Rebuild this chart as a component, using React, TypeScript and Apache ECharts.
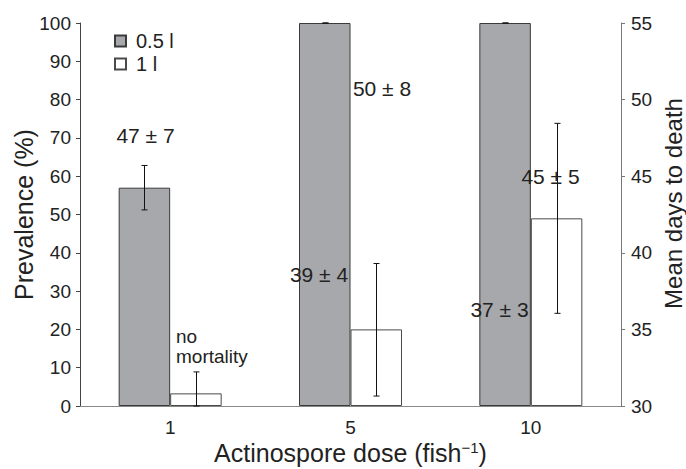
import React, { useEffect, useRef } from "react";
import * as echarts from "echarts";

const categories = ["1", "5", "10"];
const seriesNames = ["0.5 l", "1 l"];
const prevalenceHalfL = [57, 100, 100];
const prevalenceOneL = [3.3, 20, 49];
// [categoryIndex, low, high]
const errorHalfL = [
  [0, 51.2, 62.8],
  [1, 100, 100],
  [2, 100, 100],
];
const errorOneL = [
  [0, 0, 8.9],
  [1, 2.6, 37.2],
  [2, 24.2, 73.8],
];
const leftTicks = { min: 0, max: 100, interval: 10 };
const rightTicks = { min: 30, max: 55, interval: 5 };
const daysLabels = ["47 ± 7", "50 ± 8", "39 ± 4", "37 ± 3", "45 ± 5"];

const FONT = "'Liberation Sans', Arial, Helvetica, sans-serif";
const TEXT = "#222";
const BAR_W = 51.5;

function errorRender(offset: number) {
  return (params: any, api: any) => {
    const idx = api.value(0);
    const lo = api.value(1);
    const hi = api.value(2);
    const top = api.coord([idx, hi]);
    const bot = api.coord([idx, lo]);
    const x = Math.round(top[0] + offset) + 0.5;
    const style = { stroke: "#111", lineWidth: 1 };
    return {
      type: "group",
      children: [
        { type: "line", shape: { x1: x, y1: top[1], x2: x, y2: bot[1] }, style },
        { type: "line", shape: { x1: x - 3, y1: top[1], x2: x + 3, y2: top[1] }, style },
        { type: "line", shape: { x1: x - 3, y1: bot[1], x2: x + 3, y2: bot[1] }, style },
      ],
    };
  };
}

export default function App() {
  const ref = useRef<HTMLDivElement>(null);
  useEffect(() => {
    if (!ref.current) return;
    const chart = echarts.init(ref.current, null, { renderer: "svg" });
    const annStyle = { fontSize: 21, fill: TEXT, fontFamily: FONT, align: "center", verticalAlign: "middle" };
    const noteStyle = { fontSize: 19, lineHeight: 19, fill: TEXT, fontFamily: FONT, align: "left", verticalAlign: "middle" };
    chart.setOption({
      animation: false,
      backgroundColor: "#fff",
      textStyle: { fontFamily: FONT },
      grid: { left: 80, right: 65, top: 23, bottom: 63, outerBoundsMode: "none", containLabel: false },
      legend: {
        data: seriesNames,
        orient: "vertical",
        left: 109,
        top: 26,
        itemWidth: 11,
        itemHeight: 11,
        itemGap: 3,
        icon: "rect",
        textStyle: { fontSize: 20, color: TEXT, fontFamily: FONT, lineHeight: 20, padding: [0, 0, 0, 5] },
      },
      xAxis: {
        type: "category",
        data: categories,
        axisTick: { show: false },
        axisLine: { lineStyle: { color: "#888", width: 1 } },
        axisLabel: { fontSize: 19, color: TEXT, margin: 12, fontFamily: FONT },
        name: "Actinospore dose (fish{sup|−1})",
        nameLocation: "middle",
        nameGap: 34,
        nameMoveOverlap: false,
        nameTextStyle: {
          fontSize: 25,
          color: TEXT,
          fontFamily: FONT,
          rich: { sup: { fontSize: 15, verticalAlign: "top", color: TEXT, fontFamily: FONT } },
        },
      },
      yAxis: [
        {
          type: "value",
          min: leftTicks.min,
          max: leftTicks.max,
          interval: leftTicks.interval,
          splitLine: { show: false },
          axisLine: { show: true, lineStyle: { color: "#444", width: 1 } },
          axisTick: { show: true, length: 4, lineStyle: { color: "#444" } },
          axisLabel: { fontSize: 19, color: TEXT, margin: 9, fontFamily: FONT },
          name: "Prevalence (%)",
          nameLocation: "middle",
          nameGap: 44,
          nameMoveOverlap: false,
          nameTextStyle: { fontSize: 25, color: TEXT, fontFamily: FONT },
        },
        {
          type: "value",
          position: "right",
          min: rightTicks.min,
          max: rightTicks.max,
          interval: rightTicks.interval,
          splitLine: { show: false },
          axisLine: { show: true, lineStyle: { color: "#777", width: 1 } },
          axisTick: { show: true, length: 4, lineStyle: { color: "#777" } },
          axisLabel: { fontSize: 19, color: TEXT, margin: 10, fontFamily: FONT },
        },
      ],
      series: [
        {
          name: seriesNames[0],
          type: "bar",
          data: prevalenceHalfL,
          barWidth: BAR_W,
          barGap: "0%",
          itemStyle: { color: "#a7a8ab", borderColor: "#3a3a3a", borderWidth: 1 },
        },
        {
          name: seriesNames[1],
          type: "bar",
          data: prevalenceOneL,
          barWidth: BAR_W,
          barGap: "0%",
          itemStyle: { color: "#ffffff", borderColor: "#4a4a4a", borderWidth: 1 },
        },
        {
          type: "custom",
          name: "err1",
          data: errorHalfL,
          encode: { x: 0, y: [1, 2] },
          renderItem: errorRender(-BAR_W / 2),
          z: 5,
        },
        {
          type: "custom",
          name: "err2",
          data: errorOneL,
          encode: { x: 0, y: [1, 2] },
          renderItem: errorRender(BAR_W / 2),
          z: 5,
        },
      ],
      graphic: [
        { type: "text", x: 145.5, y: 135, style: { ...annStyle, text: daysLabels[0] }, z: 10 },
        { type: "text", x: 382, y: 88, style: { ...annStyle, text: daysLabels[1] }, z: 10 },
        { type: "text", x: 319, y: 274, style: { ...annStyle, text: daysLabels[2] }, z: 10 },
        { type: "text", x: 499.5, y: 309, style: { ...annStyle, text: daysLabels[3] }, z: 10 },
        { type: "text", x: 550.5, y: 176.5, style: { ...annStyle, text: daysLabels[4] }, z: 10 },
        { type: "text", x: 176, y: 336.5, style: { ...noteStyle, text: "no" }, z: 10 },
        { type: "text", x: 176, y: 356, style: { ...noteStyle, text: "mortality" }, z: 10 },
        {
          type: "text",
          x: 673.5,
          y: 203.5,
          rotation: Math.PI / 2,
          style: {
            text: "Mean days to death",
            fontSize: 24,
            fill: TEXT,
            fontFamily: FONT,
            align: "center",
            verticalAlign: "middle",
          },
          z: 10,
        },
      ],
    });
    return () => chart.dispose();
  }, []);
  return <div ref={ref} style={{ position: "fixed", left: 0, top: 0, width: 686, height: 469 }} />;
}
